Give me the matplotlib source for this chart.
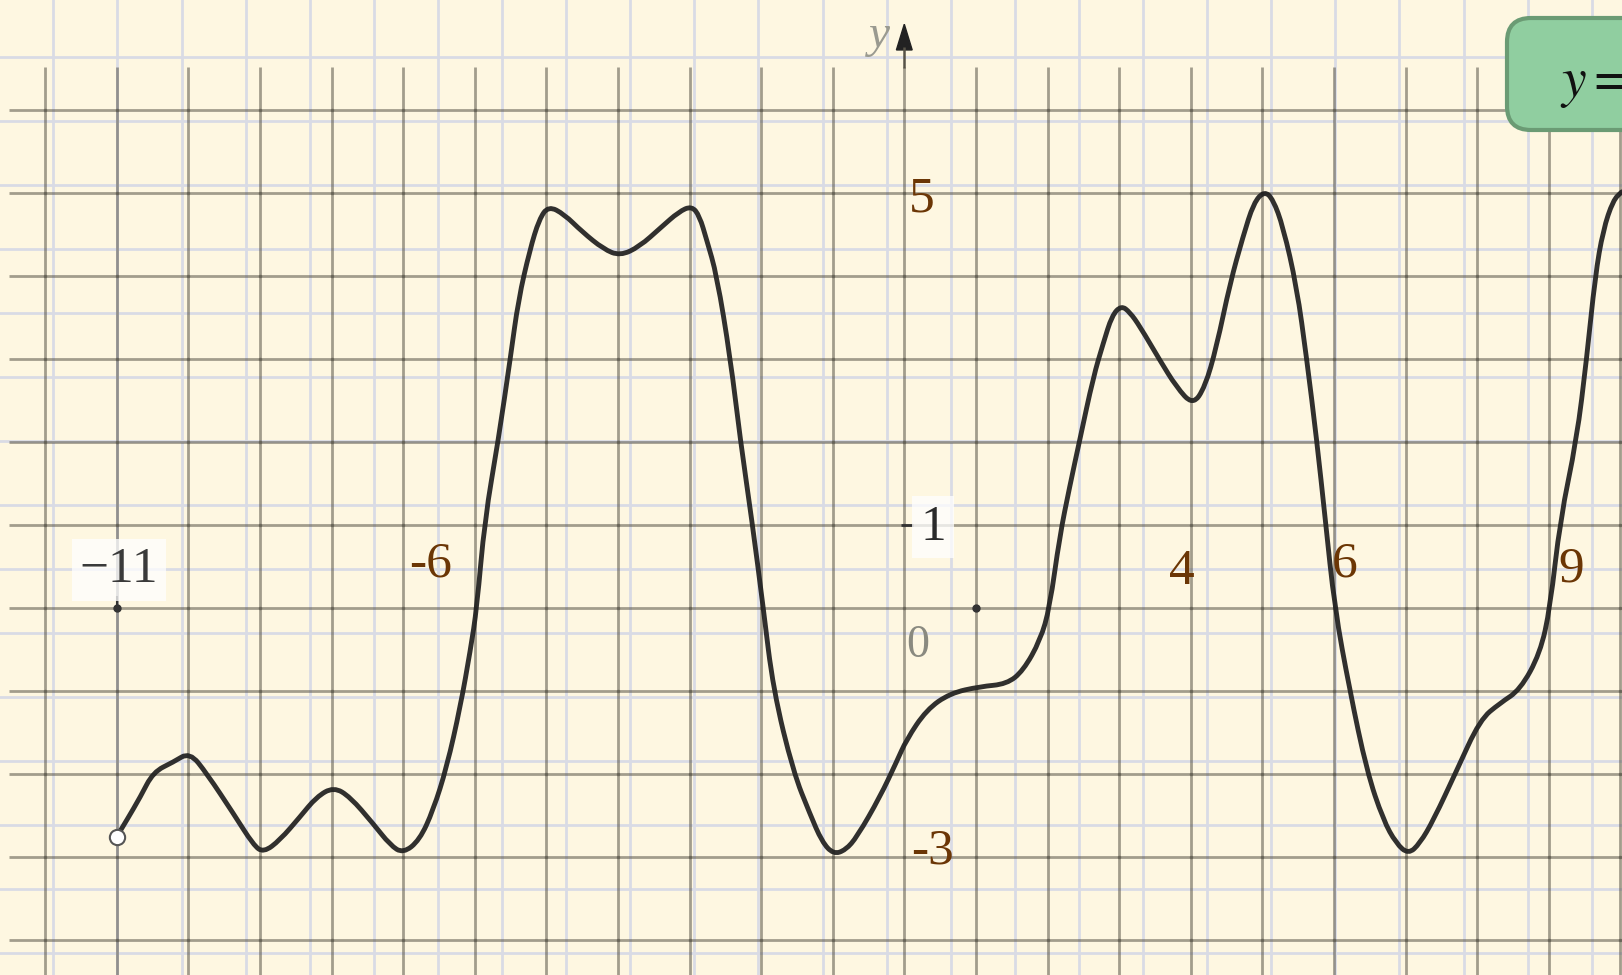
import numpy as np
import matplotlib
matplotlib.use("Agg")
import matplotlib.pyplot as plt
from matplotlib.patches import FancyBboxPatch, Polygon, PathPatch
from matplotlib.path import Path

plt.rcParams['mathtext.fontset'] = 'stix'

# curve
x_pts = [-11.0, -10.86, -10.67, -10.49, -10.21, -9.98, -9.74, -9.37, -9.09, -8.95,
         -8.72, -8.44, -8.21, -7.97, -7.74, -7.42, -7.18, -7.0, -6.77, -6.58,
         -6.39, -6.2, -6.06, -5.97, -5.86, -5.67, -5.5, -5.39, -5.23, -5.1,
         -4.97, -4.75, -4.5, -4.2, -3.97, -3.7, -3.4, -3.15, -2.97, -2.86,
         -2.76, -2.62, -2.43, -2.29, -2.13, -1.97, -1.83, -1.55, -1.32, -1.15,
         -0.99, -0.82, -0.66, -0.34, -0.11, 0.03, 0.31, 0.64, 1.06, 1.43,
         1.66, 1.9, 2.03, 2.17, 2.31, 2.45, 2.64, 2.78, 2.9, 3.03,
         3.15, 3.29, 3.57, 3.8, 4.03, 4.2, 4.36, 4.55, 4.73, 4.88,
         5.03, 5.15, 5.29, 5.48, 5.62, 5.76, 5.88, 6.01, 6.22, 6.46,
         6.69, 6.87, 7.04, 7.2, 7.39, 7.71, 8.04, 8.32, 8.6, 8.88,
         9.02, 9.16, 9.39, 9.53, 9.65, 9.76, 9.9, 10.02]
y_pts = [-2.76, -2.56, -2.28, -1.98, -1.86, -1.74, -2.0, -2.48, -2.86, -2.95,
         -2.8, -2.52, -2.28, -2.16, -2.28, -2.6, -2.86, -2.96, -2.8, -2.44,
         -1.92, -1.19, -0.51, 0.0, 1.06, 2.02, 3.02, 3.71, 4.31, 4.68,
         4.84, 4.74, 4.53, 4.32, 4.24, 4.35, 4.58, 4.77, 4.84, 4.72,
         4.43, 4.01, 3.01, 2.02, 1.06, 0.0, -0.99, -1.98, -2.48, -2.82,
         -2.97, -2.92, -2.76, -2.28, -1.86, -1.59, -1.23, -1.03, -0.95, -0.92,
         -0.76, -0.39, 0.0, 0.86, 1.46, 2.02, 2.78, 3.19, 3.52, 3.64,
         3.56, 3.39, 2.98, 2.66, 2.44, 2.66, 3.14, 3.91, 4.47, 4.88,
         5.02, 4.92, 4.59, 3.87, 3.0, 2.02, 1.06, 0.0, -0.99, -1.97,
         -2.56, -2.84, -2.97, -2.84, -2.56, -1.97, -1.35, -1.15, -0.99, -0.55,
         0.0, 1.06, 2.02, 3.0, 4.0, 4.55, 4.91, 5.01]

grid_x = list(range(-12, 11))
grid_y = list(range(-4, 7))

brown_labels = ['-6', '5', '4', '6', '9', '-3']
brown_pos = [(-6.61, 0.38), (0.25, 4.77), (3.88, 0.29), (6.15, 0.38), (9.31, 0.31), (0.39, -3.08)]

W, H = 1622, 975
fig = plt.figure(figsize=(W / 100, H / 100), dpi=100)
fig.patch.set_facecolor('#fef7e1')

# light blue paper grid (pixel space)
bg = fig.add_axes([0, 0, 1, 1], zorder=0)
bg.set_xlim(0, W)
bg.set_ylim(H, 0)
bg.axis('off')
for px in np.arange(53.3 - 64.1, W, 64.1):
    bg.axvline(px, color='#d9dbe5', lw=2.0)
for py in np.arange(56.7 - 64.0, H, 64.0):
    bg.axhline(py, color='#d9dbe5', lw=2.0)

ax = fig.add_axes([0, 0, 1, 1], zorder=1)
ax.set_facecolor('none')
ax.set_xlim(-904.3 / 71.6, (W - 904.3) / 71.6)
ax.set_ylim((607.7 - H) / 83, 607.7 / 83)
ax.axis('off')

dark = '#575347'
ax.vlines(grid_x, grid_y[0] - 1, 6.51, color=dark, lw=2.0, alpha=0.55)
ax.hlines(grid_y, -12.5, 11, color=dark, lw=2.0, alpha=0.55)
gx, gy = np.meshgrid(grid_x, grid_y)
ax.plot(gx.ravel(), gy.ravel(), 'o', ms=2.6, color=dark, alpha=0.45, mew=0)
ax.vlines(0, 6.5, 6.75, color=dark, lw=1.8)
ax.add_patch(Polygon([(-0.11, 6.72), (0.11, 6.72), (0.0, 7.03)], closed=True,
                     color='#222222'))

# small tick marks
ax.plot([-11, 1], [0, 0], 'o', ms=5, color='#333333')
ax.vlines(-11, 0, 0.14, color='#333333', lw=1.5)
ax.hlines(1, -0.05, 0.12, color='#333333', lw=2)

# smooth curve: quadratic segments through midpoints of the read points
pts = np.column_stack([x_pts, y_pts])
mids = (pts[1:] + pts[:-1]) / 2
verts = [pts[0], mids[0]]
codes = [Path.MOVETO, Path.LINETO]
for i in range(1, len(pts) - 1):
    verts += [pts[i], mids[i]]
    codes += [Path.CURVE3, Path.CURVE3]
verts.append(pts[-1])
codes.append(Path.LINETO)
ax.add_patch(PathPatch(Path(verts, codes), fc='none', ec='#1f1f1f', lw=3.5,
                       joinstyle='round', capstyle='round', alpha=0.92, zorder=5))
ax.plot(x_pts[0], y_pts[0], 'o', ms=11, mfc='white', mec='#555555', mew=1.5, zorder=6)

for t, (lx, ly) in zip(brown_labels, brown_pos):
    ax.text(lx, ly, t, color='#6b3605', fontsize=37, family='Liberation Serif',
            ha='center', va='baseline', zorder=7)

box = dict(boxstyle='square,pad=0.15', fc='white', ec='none', alpha=0.75)
ax.text(-10.97, 0.31, '\u221211', color='#3a3a3a', fontsize=37,
        family='Liberation Serif', ha='center', va='baseline', bbox=box, zorder=7)
ax.text(0.4, 0.82, '1', color='#2a2a2a', fontsize=37,
        family='Liberation Serif', ha='center', va='baseline', bbox=box, zorder=7)
ax.text(0.19, -0.59, '0', color='#8a8a80', fontsize=33,
        family='Liberation Serif', ha='center', va='baseline', zorder=7)
ax.text(-0.35, 6.75, 'y', color='#9a9a90', fontsize=34, style='italic',
        family='Liberation Serif', ha='center', va='baseline', zorder=7)

# formula box, cut by the right edge as in the original
top = fig.add_axes([0, 0, 1, 1], zorder=3)
top.set_facecolor('none')
top.set_xlim(0, W)
top.set_ylim(H, 0)
top.axis('off')
top.add_patch(FancyBboxPatch((1507, 18), 200, 112,
                             boxstyle='round,pad=0,rounding_size=24',
                             fc='#90cea0', ec='#6b9b74', lw=3))
top.text(1560, 82, r'$y = f(x)$', fontsize=40, color='#111111',
         ha='left', va='center', clip_on=False)

fig.savefig('out.png', dpi=100, facecolor=fig.get_facecolor())
